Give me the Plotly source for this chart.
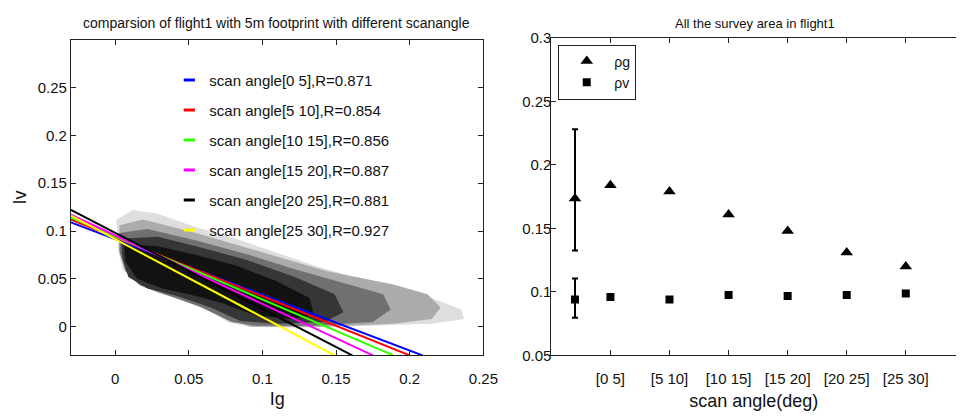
import plotly.graph_objects as go

# ---------------- data ----------------
# left panel: regression lines (y at left edge x=-0.03, x where line reaches y=-0.03)
line_names = ["scan angle[0 5],R=0.871", "scan angle[5 10],R=0.854", "scan angle[10 15],R=0.856",
              "scan angle[15 20],R=0.887", "scan angle[20 25],R=0.881", "scan angle[25 30],R=0.927"]
line_colors = ["#0000ff", "#ff0000", "#33ff00", "#ff00ff", "#000000", "#ffff00"]
line_y_left = [0.109, 0.112, 0.114, 0.117, 0.122, 0.116]
line_x_bottom = [0.2087, 0.200, 0.189, 0.175, 0.161, 0.149]
x_left_edge = -0.03
y_bottom_edge = -0.03

# left panel: point cloud outlines (density levels, light -> dark)
cloud_colors = ["#dedede", "#ababab", "#707070", "#363636", "#121212"]
cloud1_x = [0.001, 0.012, 0.029, 0.055, 0.082, 0.109, 0.135, 0.162, 0.189, 0.215, 0.235, 0.237,
            0.215, 0.175, 0.122, 0.091, 0.077, 0.069, 0.047, 0.029, 0.015, 0.005, 0.002]
cloud1_y = [0.112, 0.122, 0.118, 0.104, 0.092, 0.078, 0.064, 0.052, 0.042, 0.030, 0.018, 0.008,
            0.003, 0.001, -0.001, 0.000, 0.004, 0.012, 0.028, 0.035, 0.045, 0.060, 0.080]
cloud2_x = [0.003, 0.019, 0.055, 0.100, 0.144, 0.189, 0.212, 0.221, 0.215, 0.189, 0.142, 0.092,
            0.077, 0.055, 0.033, 0.012, 0.003]
cloud2_y = [0.106, 0.112, 0.098, 0.078, 0.058, 0.044, 0.034, 0.020, 0.008, 0.003, 0.000, 0.000,
            0.008, 0.024, 0.037, 0.050, 0.080]
cloud3_x = [0.003, 0.022, 0.055, 0.089, 0.122, 0.155, 0.182, 0.187, 0.175, 0.135, 0.095, 0.079,
            0.059, 0.035, 0.017, 0.007, 0.003]
cloud3_y = [0.098, 0.102, 0.090, 0.076, 0.060, 0.046, 0.034, 0.018, 0.005, 0.001, 0.001, 0.005,
            0.020, 0.033, 0.043, 0.058, 0.078]
cloud4_x = [0.004, 0.029, 0.055, 0.089, 0.122, 0.149, 0.155, 0.142, 0.109, 0.085, 0.065, 0.042,
            0.022, 0.009, 0.005]
cloud4_y = [0.092, 0.094, 0.084, 0.070, 0.052, 0.034, 0.015, 0.005, 0.003, 0.006, 0.020, 0.032,
            0.040, 0.052, 0.072]
cloud5_x = [0.006, 0.029, 0.055, 0.082, 0.109, 0.132, 0.135, 0.119, 0.095, 0.072, 0.052, 0.032,
            0.015, 0.007]
cloud5_y = [0.086, 0.084, 0.075, 0.064, 0.048, 0.030, 0.012, 0.008, 0.012, 0.025, 0.033, 0.040,
            0.050, 0.068]

# right panel
categories = ["[0 5]", "[5 10]", "[10 15]", "[15 20]", "[20 25]", "[25 30]"]
rho_g = [0.184, 0.179, 0.161, 0.148, 0.131, 0.120]
rho_v = [0.096, 0.094, 0.0975, 0.0968, 0.0975, 0.0987]
overall_pos = 0.4
rho_g_all, rho_g_low, rho_g_high = 0.1735, 0.1325, 0.228
rho_v_all, rho_v_low, rho_v_high = 0.094, 0.0796, 0.1106

# ---------------- figure ----------------
FONT = "Liberation Sans, Arial, sans-serif"
fig = go.Figure()

clouds = [(cloud1_x, cloud1_y), (cloud2_x, cloud2_y), (cloud3_x, cloud3_y),
          (cloud4_x, cloud4_y), (cloud5_x, cloud5_y)]
for (cx, cy), col in zip(clouds, cloud_colors):
    fig.add_trace(go.Scatter(x=cx, y=cy, fill="toself", mode="lines", line=dict(width=0),
                             fillcolor=col, showlegend=False, hoverinfo="skip",
                             xaxis="x", yaxis="y"))

for i, (name, col, yl, xb) in enumerate(zip(line_names, line_colors, line_y_left, line_x_bottom)):
    fig.add_trace(go.Scatter(x=[x_left_edge, xb], y=[yl, y_bottom_edge], mode="lines",
                             line=dict(color=col, width=2), showlegend=False,
                             xaxis="x", yaxis="y"))
for i, (name, col) in enumerate(zip(line_names, line_colors)):
    fig.add_trace(go.Scatter(x=[None], y=[None], mode="markers", name=name,
                             marker=dict(symbol="line-ew", size=8, line=dict(color=col, width=3)),
                             legend="legend", legendgroup="g%d" % i,
                             xaxis="x", yaxis="y"))

xpos = [i + 1 for i in range(len(categories))]
fig.add_trace(go.Scatter(x=xpos, y=rho_g, mode="markers", name="ρg",
                         marker=dict(symbol="triangle-up", size=11, color="black"),
                         legend="legend2", xaxis="x2", yaxis="y2"))
fig.add_trace(go.Scatter(x=xpos, y=rho_v, mode="markers", name="ρv",
                         marker=dict(symbol="square", size=8, color="black"),
                         legend="legend2", xaxis="x2", yaxis="y2"))
fig.add_trace(go.Scatter(x=[overall_pos], y=[rho_g_all], mode="markers", showlegend=False,
                         marker=dict(symbol="triangle-up", size=11, color="black"),
                         error_y=dict(type="data", symmetric=False,
                                      array=[rho_g_high - rho_g_all],
                                      arrayminus=[rho_g_all - rho_g_low],
                                      color="black", thickness=2, width=3),
                         xaxis="x2", yaxis="y2"))
fig.add_trace(go.Scatter(x=[overall_pos], y=[rho_v_all], mode="markers", showlegend=False,
                         marker=dict(symbol="square", size=8, color="black"),
                         error_y=dict(type="data", symmetric=False,
                                      array=[rho_v_high - rho_v_all],
                                      arrayminus=[rho_v_all - rho_v_low],
                                      color="black", thickness=2, width=3),
                         xaxis="x2", yaxis="y2"))

axis_common = dict(showline=True, linecolor="#222", linewidth=1, ticks="inside", ticklen=5,
                   tickcolor="#222", showgrid=False, zeroline=False,
                   tickfont=dict(size=15, color="#111", family=FONT))

fig.update_layout(
    width=971, height=420, margin=dict(l=0, r=0, t=0, b=0),
    paper_bgcolor="white", plot_bgcolor="white",
    font=dict(family=FONT, color="#111"),
    xaxis=dict(domain=[72 / 971, 491 / 971], range=[-0.03, 0.25], mirror="ticks",
               tickvals=[0, 0.05, 0.1, 0.15, 0.2, 0.25], ticklabelstandoff=10,
               title=dict(text="Ig", font=dict(size=18), standoff=6), anchor="y", **axis_common),
    yaxis=dict(domain=[59 / 420, 388 / 420], range=[-0.03, 0.3], mirror="ticks",
               tickvals=[0, 0.05, 0.1, 0.15, 0.2, 0.25],
               title=dict(text="Iv", font=dict(size=18), standoff=6), anchor="x", **axis_common),
    xaxis2=dict(domain=[560 / 971, 1.0], range=[0, 6.85], mirror="ticks",
                tickvals=xpos, ticktext=categories, ticklabelstandoff=10,
                title=dict(text="scan angle(deg)", font=dict(size=18), standoff=8),
                anchor="y2", **axis_common),
    yaxis2=dict(domain=[59 / 420, 390 / 420], range=[0.05, 0.3], mirror=False,
                tickvals=[0.05, 0.1, 0.15, 0.2, 0.25, 0.3], ticklabelstandoff=-4,
                anchor="x2", **axis_common),
    legend=dict(x=172 / 971, y=1 - 57 / 420, xanchor="left", yanchor="top",
                bgcolor="rgba(0,0,0,0)", borderwidth=0, tracegroupgap=7.5,
                font=dict(size=15, family=FONT, color="#111")),
    legend2=dict(x=567 / 971, y=1 - 37 / 420, xanchor="left", yanchor="top",
                 bgcolor="white", bordercolor="#222", borderwidth=1, itemwidth=45,
                 font=dict(size=14, family=FONT, color="#111")),
    annotations=[
        dict(text="comparsion of flight1 with 5m footprint with different scanangle",
             x=281 / 971, y=1 - 15 / 420, xref="paper", yref="paper", showarrow=False,
             xanchor="center", yanchor="middle", font=dict(size=14, family=FONT, color="#111")),
        dict(text="All the survey area in flight1",
             x=767 / 971, y=1 - 15 / 420, xref="paper", yref="paper", showarrow=False,
             xanchor="center", yanchor="middle", font=dict(size=13, family=FONT, color="#111")),
    ],
)

fig.write_html("out.html")
